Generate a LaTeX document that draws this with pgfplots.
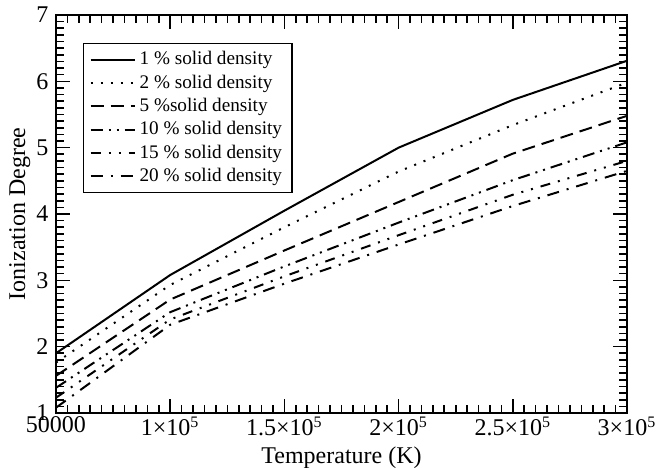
\documentclass[border=0pt]{standalone}
\usepackage{fontspec}
\setmainfont{Liberation Serif}
\usepackage{pgfplots}
\pgfplotsset{compat=1.18}

\begin{document}
\begin{tikzpicture}
\begin{axis}[
    scale only axis,
    width=285.5pt, height=199pt,
    line width=0.9pt,
    xmin=50000, xmax=300000,
    ymin=1, ymax=7,
    xtick={50000,100000,150000,200000,250000,300000},
    xticklabels={50000, 1×10\textsuperscript{5}, 1.5×10\textsuperscript{5}, 2×10\textsuperscript{5}, 2.5×10\textsuperscript{5}, 3×10\textsuperscript{5}},
    ytick={1,2,3,4,5,6,7},
    yticklabels={1,2,3,4,5,6,7},
    scaled x ticks=false,
    minor x tick num=9,
    minor y tick num=9,
    major tick length=7pt,
    minor tick length=4pt,
    tick label style={font=\fontsize{12}{14}\selectfont},
    label style={font=\fontsize{12}{14}\selectfont},
    xticklabel style={yshift=2pt},
    xlabel={Temperature (K)},
    ylabel={Ionization Degree},
    xlabel style={yshift=1.5pt},
    ylabel style={yshift=-4pt},
    legend cell align=left,
    legend style={at={(0.047,0.93)}, anchor=north west, draw=black, line width=0.8pt,
        font=\fontsize{9.6}{11.5}\selectfont, inner xsep=3pt, inner ysep=2pt,
        row sep=-0.5pt},
    legend image code/.code={\draw[#1] (0pt,0pt) -- (22pt,0pt);},
    every axis plot/.append style={black, line width=1pt},
    xtick style={black, line width=0.8pt},
    ytick style={black, line width=0.8pt},
]
\addplot[solid] coordinates {(50000,1.90) (100000,3.08) (150000,4.05) (200000,5.00) (250000,5.72) (300000,6.31)};
\addlegendentry{1 \% solid density}
\addplot[dash pattern=on 1pt off 4pt] coordinates {(50000,1.76) (100000,2.93) (150000,3.80) (200000,4.64) (250000,5.34) (300000,5.98)};
\addlegendentry{2 \% solid density}
\addplot[dash pattern=on 6.5pt off 3.5pt] coordinates {(50000,1.56) (100000,2.71) (150000,3.45) (200000,4.18) (250000,4.91) (300000,5.48)};
\addlegendentry{5 \%solid density}
\addplot[dash pattern=on 6pt off 3pt on 1pt off 3pt on 1pt off 3pt] coordinates {(50000,1.38) (100000,2.52) (150000,3.21) (200000,3.87) (250000,4.51) (300000,5.08)};
\addlegendentry{10 \% solid density}
\addplot[dash pattern=on 5pt off 4pt on 1pt off 4pt on 1pt off 4pt] coordinates {(50000,1.23) (100000,2.41) (150000,3.06) (200000,3.68) (250000,4.29) (300000,4.80)};
\addlegendentry{15 \% solid density}
\addplot[dash pattern=on 6pt off 4pt on 1pt off 4pt] coordinates {(50000,1.08) (100000,2.33) (150000,2.95) (200000,3.54) (250000,4.12) (300000,4.65)};
\addlegendentry{20 \% solid density}
\end{axis}
\pgfresetboundingbox
\path ([shift={(-28pt,-27.5pt)}]current axis.south west) rectangle ([shift={(15.5pt,7.5pt)}]current axis.north east);
\end{tikzpicture}
\end{document}
